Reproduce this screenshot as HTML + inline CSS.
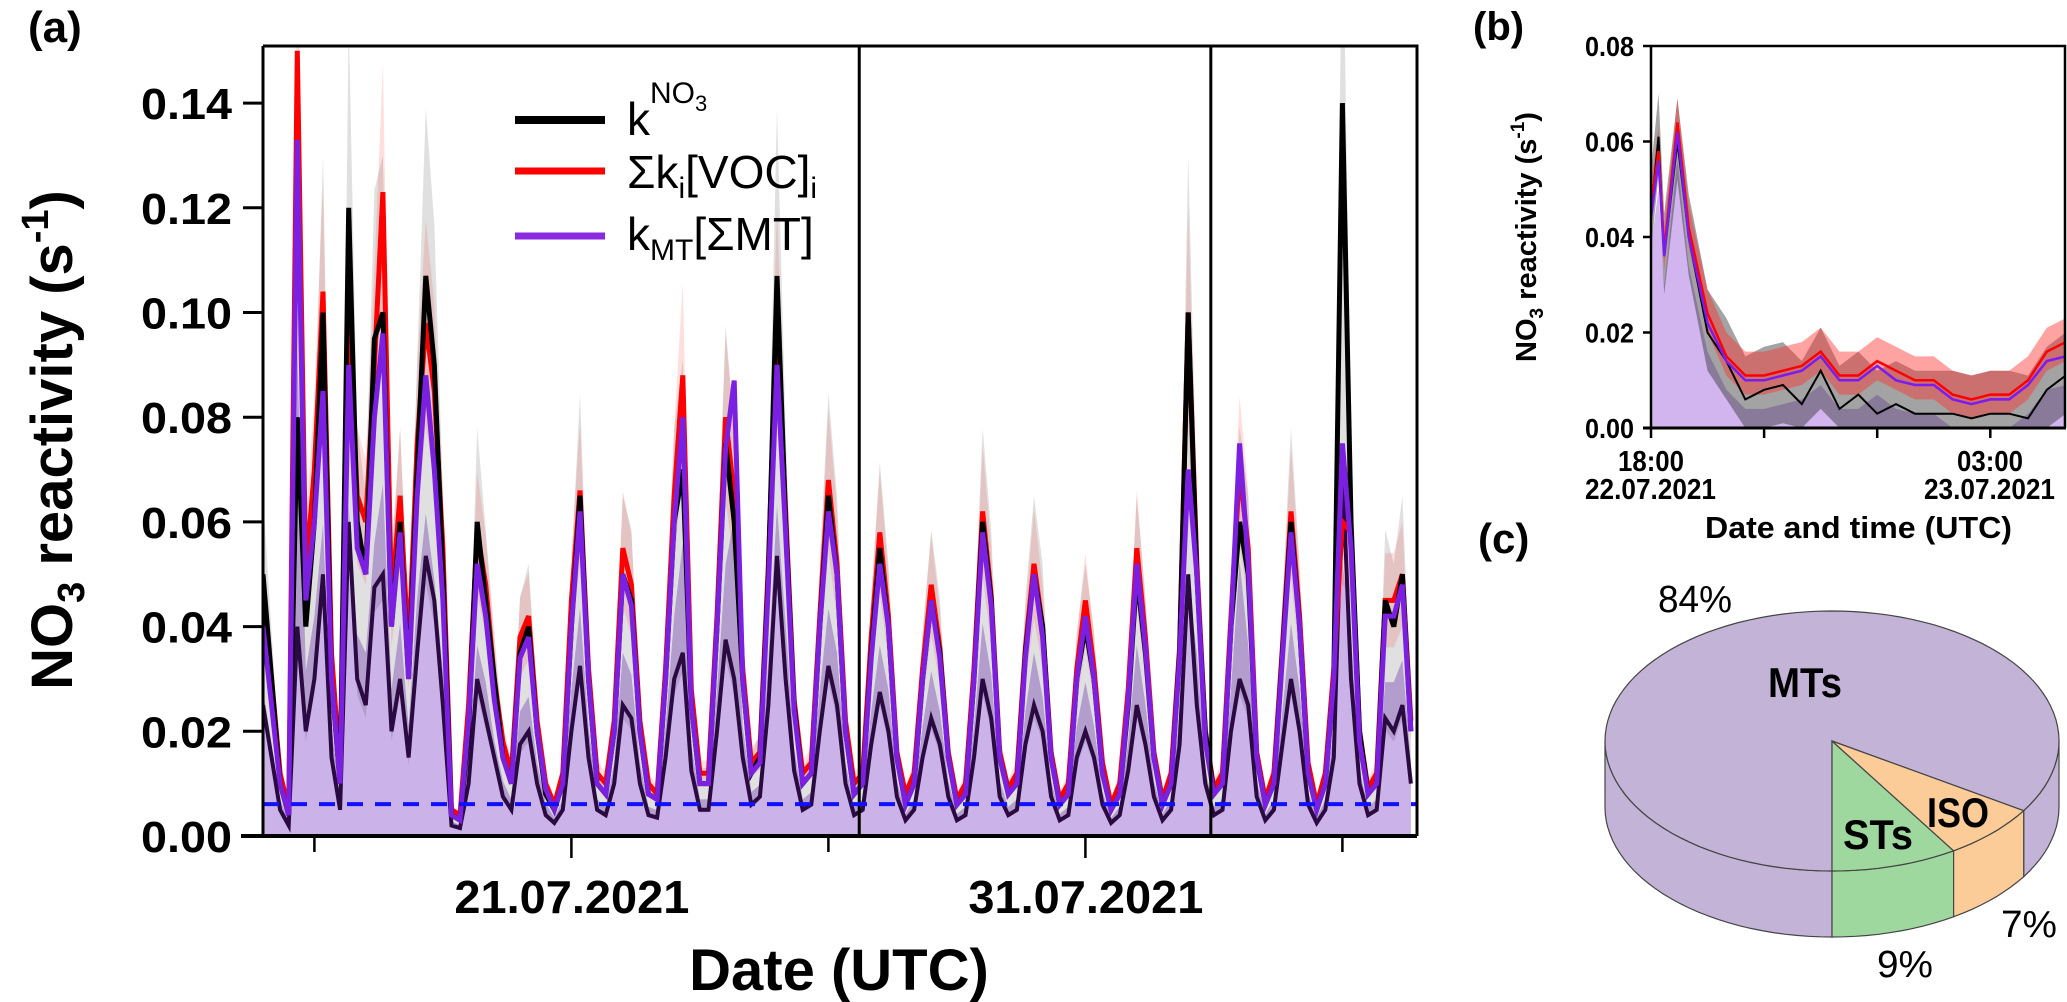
<!DOCTYPE html>
<html><head><meta charset="utf-8"><style>
html,body{margin:0;padding:0;background:#fff;}
svg{display:block;font-family:"Liberation Sans",sans-serif;}
</style></head><body>
<svg id="fig" width="2067" height="1002" viewBox="0 0 2067 1002" xmlns="http://www.w3.org/2000/svg">
<defs>
<clipPath id="clipA"><rect x="263" y="46" width="1154" height="790"/></clipPath>
<clipPath id="clipB"><rect x="1651" y="46" width="415" height="382"/></clipPath>
</defs>
<g id="panelA"></g>
<g id="panelB"></g>
<g id="panelC"></g>
</svg>
<script>
// ---------- Panel (a) data: 4-hourly values starting 15.07.2021 00:00 ----------
const kNO3 = [
.050,.030,.010,.004,.080,.040, .060,.100,.030,.010,.120,.060, .050,.095,.100,.040,.060,.030,
.070,.107,.090,.050,.004,.003, .020,.060,.045,.030,.015,.010, .035,.040,.020,.008,.005,.010,
.040,.065,.030,.010,.008,.020, .050,.045,.020,.008,.007,.030, .060,.070,.025,.010,.010,.040,
.075,.060,.030,.012,.015,.050, .107,.060,.025,.010,.012,.040, .065,.050,.020,.008,.010,.035,
.055,.040,.015,.006,.010,.030, .045,.035,.015,.006,.008,.030, .060,.045,.015,.008,.010,.035,
.050,.040,.015,.006,.008,.030, .040,.030,.012,.005,.008,.025, .050,.035,.015,.006,.010,.035,
.100,.050,.020,.008,.010,.040, .060,.050,.015,.006,.010,.035, .060,.040,.012,.005,.010,.030,
.140,.060,.020,.008,.010,.045, .040,.050,.020];
const sumVOC = [
.045,.030,.012,.005,.150,.050, .070,.104,.035,.012,.100,.065, .060,.090,.123,.045,.065,.035,
.075,.098,.085,.055,.005,.004, .025,.058,.048,.030,.018,.012, .038,.042,.022,.010,.006,.012,
.045,.066,.032,.012,.010,.022, .055,.048,.022,.010,.008,.032, .065,.088,.028,.012,.012,.042,
.080,.065,.032,.014,.016,.052, .100,.062,.026,.012,.014,.042, .068,.052,.022,.010,.012,.038,
.058,.042,.016,.008,.012,.032, .048,.036,.016,.007,.010,.032, .062,.046,.016,.009,.012,.036,
.052,.040,.016,.007,.010,.032, .045,.032,.014,.006,.010,.028, .055,.038,.016,.007,.012,.036,
.100,.052,.020,.009,.012,.042, .070,.055,.016,.007,.012,.036, .062,.042,.014,.006,.012,.032,
.060,.058,.020,.009,.012,.045, .045,.050,.022];
const kMT = [
.040,.025,.010,.004,.133,.045, .060,.085,.030,.010,.090,.055, .050,.080,.096,.040,.058,.030,
.065,.088,.070,.045,.004,.003, .022,.052,.042,.026,.015,.010, .034,.038,.020,.009,.005,.010,
.040,.062,.030,.010,.008,.020, .050,.044,.020,.008,.007,.030, .060,.080,.025,.010,.010,.040,
.074,.087,.030,.012,.014,.048, .090,.058,.024,.010,.012,.040, .062,.050,.020,.008,.010,.034,
.052,.040,.015,.006,.010,.030, .045,.034,.015,.006,.008,.030, .058,.044,.015,.008,.010,.034,
.050,.038,.015,.006,.008,.030, .042,.030,.012,.005,.008,.026, .052,.036,.015,.006,.010,.034,
.070,.050,.018,.008,.010,.040, .075,.052,.015,.006,.010,.034, .058,.040,.012,.005,.010,.030,
.075,.055,.018,.008,.010,.042, .042,.048,.020];
// isolated kNO3 spikes (days after 15.07 00:00, value)
const spikeDays = [11.6, 18.44];
const spikeValues = [0.20, 0.20];
const stepHoursA = 4;
const yTicksA = [0, 0.02, 0.04, 0.06, 0.08, 0.10, 0.12, 0.14];
const yTickLabelsA = ["0.00","0.02","0.04","0.06","0.08","0.10","0.12","0.14"];
const xTickDaysA = [1, 6, 11, 16, 21];
const xTickLabelsA = ["", "21.07.2021", "", "31.07.2021", ""];
const detectionLimit = 0.0061;

// ---------- Panel (b) data: hours after 18:00 22.07.2021 ----------
const hoursB = [0,0.2,0.35,0.7,1.0,1.5,2.0,2.5,3.0,3.5,4.0,4.5,5.0,5.5,6.0,6.5,7.0,7.5,8.0,8.5,9.0,9.5,10.0,10.5,11.0];
const kMTB   = [.044,.056,.036,.062,.040,.022,.014,.010,.010,.011,.012,.015,.010,.010,.013,.010,.009,.009,.006,.005,.006,.006,.009,.014,.015];
const sumB   = [.046,.058,.037,.064,.042,.024,.015,.011,.011,.012,.013,.016,.011,.011,.014,.012,.010,.010,.007,.006,.007,.007,.010,.016,.018];
const kNO3B  = [.045,.061,.036,.060,.040,.020,.014,.006,.008,.009,.005,.012,.004,.007,.003,.005,.003,.003,.003,.002,.003,.003,.002,.008,.011];
const yTicksB = [0,0.02,0.04,0.06,0.08];
const yTickLabelsB = ["0.00","0.02","0.04","0.06","0.08"];
const xTickHoursB = [0,3,6,9];

// ---------- Panel (c) data ----------
const pieLabels = ["MTs","STs","ISO"];
const pieShares = [84, 9, 7];

const NS = "http://www.w3.org/2000/svg";
function mk(parent, tag, attrs, text){
  const e = document.createElementNS(NS, tag);
  for (const k in attrs) e.setAttribute(k, attrs[k]);
  if (text !== undefined) e.textContent = text;
  parent.appendChild(e);
  return e;
}

// ===== Panel A =====
const A = document.getElementById('panelA');
const xA = d => 263 + d * 51.4;
const yA = v => 836 - v * 5235;
function lineA(arr, f){ f=f||1; return arr.map((v,i)=>(i?'L':'M')+xA(i*stepHoursA/24).toFixed(1)+','+yA(v*f).toFixed(1)).join(''); }
function bandA(arr, lo, hi){
  let p = lineA(arr, hi);
  for (let i=arr.length-1;i>=0;i--) p += 'L'+xA(i*stepHoursA/24).toFixed(1)+','+yA(arr[i]*lo).toFixed(1);
  return p+'Z';
}
const gA = mk(A,'g',{'clip-path':'url(#clipA)'});


let fill = lineA(kMT,0.7) + 'L'+xA((kMT.length-1)*stepHoursA/24)+','+yA(0)+'L'+xA(0)+','+yA(0)+'Z';
let e = mk(gA,'path',{d:fill,fill:'#cbb3ea'});


e = mk(gA,'path',{d:bandA(kNO3,0.45,1.3),fill:'#000',opacity:0.12});


e = mk(gA,'path',{d:bandA(sumVOC,0.8,1.2),fill:'#ff2020',opacity:0.15});


e = mk(gA,'path',{d:lineA(kNO3,0.5),fill:'none',stroke:'#2a0a40','stroke-width':4});


e = mk(gA,'path',{d:lineA(sumVOC),fill:'none',stroke:'#ff0000','stroke-width':5});


e = mk(gA,'path',{d:lineA(kNO3),fill:'none',stroke:'#000','stroke-width':5});


e = mk(gA,'path',{d:lineA(kMT),fill:'none',stroke:'#7b20e0','stroke-width':5});


spikeDays.forEach((d,i)=>{
  let s = mk(gA,'line',{x1:xA(d),x2:xA(d),y1:yA(0),y2:yA(spikeValues[i]),stroke:'#000','stroke-width':3});
  
  
});
e = mk(gA,'line',{x1:263,x2:1417,y1:yA(detectionLimit),y2:yA(detectionLimit),stroke:'#1010ff','stroke-width':4,'stroke-dasharray':'16,12'});


e = mk(A,'path',{d:'M263,46H1417V836M263,46V836',fill:'none',stroke:'#000','stroke-width':3});


e = mk(A,'line',{x1:241,x2:1417,y1:836,y2:836,stroke:'#000','stroke-width':4});


yTicksA.forEach((t,i)=>{
  const y = yA(t);
  let l = mk(A,'line',{x1:243,x2:263,y1:y,y2:y,stroke:'#000','stroke-width':3});
  
  
  let tx = mk(A,'text',{x:141,y:y+16,'font-size':44,'font-weight':'bold',textLength:91,lengthAdjust:'spacingAndGlyphs'},yTickLabelsA[i]);
  
  
});
xTickDaysA.forEach((d,i)=>{
  const x = xA(d);
  const major = xTickLabelsA[i] !== "";
  let l = mk(A,'line',{x1:x,x2:x,y1:836,y2:major?858:852,stroke:'#000','stroke-width':2.5});
  
  
  if (major){
    let tx = mk(A,'text',{x:x-117,y:913,'font-size':46,'font-weight':'bold',textLength:235,lengthAdjust:'spacingAndGlyphs'},xTickLabelsA[i]);
    
    
  }
});
A.insertAdjacentHTML('beforeend', `
<text x="28" y="42" font-size="44" font-weight="bold">(a)</text>
<text transform="translate(72,440) rotate(-90)" text-anchor="middle" font-size="58" font-weight="bold">NO<tspan font-size="38" dy="12">3</tspan><tspan dy="-12"> reactivity (s</tspan><tspan font-size="38" dy="-24">-1</tspan><tspan dy="24">)</tspan></text>
<text x="839" y="990" text-anchor="middle" font-size="58" font-weight="bold">Date (UTC)</text>
<g font-size="46">
 <g><line x1="515" x2="605" y1="120" y2="120" stroke="#000" stroke-width="8"/><text x="627" y="135">k<tspan font-size="30" dy="-32">NO</tspan><tspan font-size="22" dy="8">3</tspan></text></g>
 <g><line x1="515" x2="605" y1="171" y2="171" stroke="#ff0000" stroke-width="7"/><text x="627" y="188">Σk<tspan font-size="30" dy="10">i</tspan><tspan dy="-10">[VOC]</tspan><tspan font-size="30" dy="10">i</tspan></text></g>
 <g><line x1="515" x2="605" y1="236" y2="236" stroke="#8a2be2" stroke-width="7"/><text x="627" y="250">k<tspan font-size="30" dy="10">MT</tspan><tspan dy="-10">[ΣMT]</tspan></text></g>
</g>`);

// ===== Panel B =====
const B = document.getElementById('panelB');
const xB = h => 1651 + h * 37.7;
const yB = v => 428 - v * 4775;
function lineB(arr, off){ return arr.map((v,i)=>(i?'L':'M')+xB(hoursB[i]).toFixed(1)+','+yB(Math.max(0,v+off)).toFixed(1)).join(''); }
function bandB(arr, lo, hi){
  let p = lineB(arr, hi);
  for (let i=arr.length-1;i>=0;i--) p += 'L'+xB(hoursB[i]).toFixed(1)+','+yB(Math.max(0,arr[i]+lo)).toFixed(1);
  return p+'Z';
}
const gB = mk(B,'g',{'clip-path':'url(#clipB)'});


let fb = lineB(kMTB,-0.006)+'L'+xB(hoursB[hoursB.length-1])+','+yB(0)+'L'+xB(0)+','+yB(0)+'Z';
let eb = mk(gB,'path',{d:fb,fill:'#d2b4ee'});


eb = mk(gB,'path',{d:bandB(kNO3B,-0.008,0.009),fill:'#333',opacity:0.45});


eb = mk(gB,'path',{d:bandB(sumB,-0.004,0.005),fill:'#ff3030',opacity:0.45});


eb = mk(gB,'path',{d:lineB(kNO3B,0),fill:'none',stroke:'#000','stroke-width':2});


eb = mk(gB,'path',{d:lineB(sumB,0),fill:'none',stroke:'#ff0000','stroke-width':2.5});


eb = mk(gB,'path',{d:lineB(kMTB,0),fill:'none',stroke:'#7a1cf0','stroke-width':2.5});


eb = mk(B,'path',{d:'M1651,46H2065V428M1651,46V428',fill:'none',stroke:'#000','stroke-width':2.5});


eb = mk(B,'line',{x1:1643,x2:2066,y1:428,y2:428,stroke:'#000','stroke-width':3});


yTicksB.forEach((t,i)=>{
  const y=yB(t);
  let l=mk(B,'line',{x1:1643,x2:1651,y1:y,y2:y,stroke:'#000','stroke-width':2.5});
  
  
  let tx=mk(B,'text',{x:1585,y:y+10,'font-size':28,'font-weight':'bold',textLength:49,lengthAdjust:'spacingAndGlyphs'},yTickLabelsB[i]);
  
  
});
xTickHoursB.forEach(h=>{
  const x=xB(h);
  let l=mk(B,'line',{x1:x,x2:x,y1:428,y2:438,stroke:'#000','stroke-width':2.5});
  
  
});
B.insertAdjacentHTML('beforeend', `
<text x="1473" y="40" font-size="40" font-weight="bold">(b)</text>
<text transform="translate(1536,237) rotate(-90)" text-anchor="middle" font-size="29" font-weight="bold">NO<tspan font-size="19" dy="7">3</tspan><tspan dy="-7"> reactivity (s</tspan><tspan font-size="19" dy="-12">-1</tspan><tspan dy="12">)</tspan></text>
<text x="1618" y="471" font-size="29" font-weight="bold" textLength="66" lengthAdjust="spacingAndGlyphs">18:00</text>
<text x="1585" y="499" font-size="29" font-weight="bold" textLength="131" lengthAdjust="spacingAndGlyphs">22.07.2021</text>
<text x="1957" y="471" font-size="29" font-weight="bold" textLength="66" lengthAdjust="spacingAndGlyphs">03:00</text>
<text x="1924" y="499" font-size="29" font-weight="bold" textLength="131" lengthAdjust="spacingAndGlyphs">23.07.2021</text>
<text x="1705" y="538" font-size="31" font-weight="bold" textLength="307" lengthAdjust="spacingAndGlyphs">Date and time (UTC)</text>
`);

// ===== Panel C (3D pie) =====
const C = document.getElementById('panelC');
const cx=1832, cy=741, rx=227, ry=130, depth=66;
const pcol = {"MTs":"#c3b3d7","STs":"#9fd89f","ISO":"#fbcb98"};
const pt = (a,dy)=>[cx+rx*Math.cos(a*Math.PI/180), cy+(dy||0)+ry*Math.sin(a*Math.PI/180)];
const total = pieShares.reduce((s,v)=>s+v,0);
const iST = pieLabels.indexOf("STs"), iISO = pieLabels.indexOf("ISO"), iMT = pieLabels.indexOf("MTs");
const aST1 = 90, aST0 = 90 - pieShares[iST]/total*360;
const aISO1 = aST0, aISO0 = aISO1 - pieShares[iISO]/total*360;
const slices = [
  {name:"MTs", a0:aST1, a1:aISO0+360},
  {name:"STs", a0:aST0, a1:aST1},
  {name:"ISO", a0:aISO0, a1:aISO1}
];
function arcPath(a0,a1,dy){
  let d='';
  const n=Math.max(2,Math.ceil((a1-a0)/3));
  for(let k=0;k<=n;k++){const p=pt(a0+(a1-a0)*k/n,dy); d+=(k?'L':'')+p[0].toFixed(1)+','+p[1].toFixed(1);}
  return d;
}
slices.forEach(s=>{
  [[s.a0,s.a1],[s.a0-360,s.a1-360],[s.a0+360,s.a1+360]].forEach(([a0,a1])=>{
    const lo=Math.max(a0,0), hi=Math.min(a1,180);
    if(hi<=lo) return;
    const top=arcPath(lo,hi,0);
    let bottomPts=[];
    const n=Math.max(2,Math.ceil((hi-lo)/3));
    for(let k=n;k>=0;k--){const p=pt(lo+(hi-lo)*k/n,depth); bottomPts.push(p[0].toFixed(1)+','+p[1].toFixed(1));}
    const p=mk(C,'path',{d:'M'+top+'L'+bottomPts.join('L')+'Z',fill:pcol[s.name],stroke:'#444','stroke-width':1.2});
    
    
  });
});
slices.forEach(s=>{
  const p=mk(C,'path',{d:'M'+cx+','+cy+'L'+arcPath(s.a0,s.a1,0)+'Z',fill:pcol[s.name],stroke:'#444','stroke-width':1.2});
  
  
});
C.insertAdjacentHTML('beforeend', `
<text x="1478" y="553" font-size="42" font-weight="bold">(c)</text>
<text x="1658" y="612" font-size="38" textLength="74" lengthAdjust="spacingAndGlyphs">${pieShares[iMT]}%</text>
<text x="1768" y="697" font-size="42" font-weight="bold" textLength="74" lengthAdjust="spacingAndGlyphs">MTs</text>
<text x="1843" y="849" font-size="42" font-weight="bold" textLength="70" lengthAdjust="spacingAndGlyphs">STs</text>
<text x="1927" y="827" font-size="42" font-weight="bold" textLength="62" lengthAdjust="spacingAndGlyphs">ISO</text>
<text x="2001" y="937" font-size="38" textLength="56" lengthAdjust="spacingAndGlyphs">${pieShares[iISO]}%</text>
<text x="1877" y="977" font-size="38" textLength="56" lengthAdjust="spacingAndGlyphs">${pieShares[iST]}%</text>
`);
</script>
</body></html>
